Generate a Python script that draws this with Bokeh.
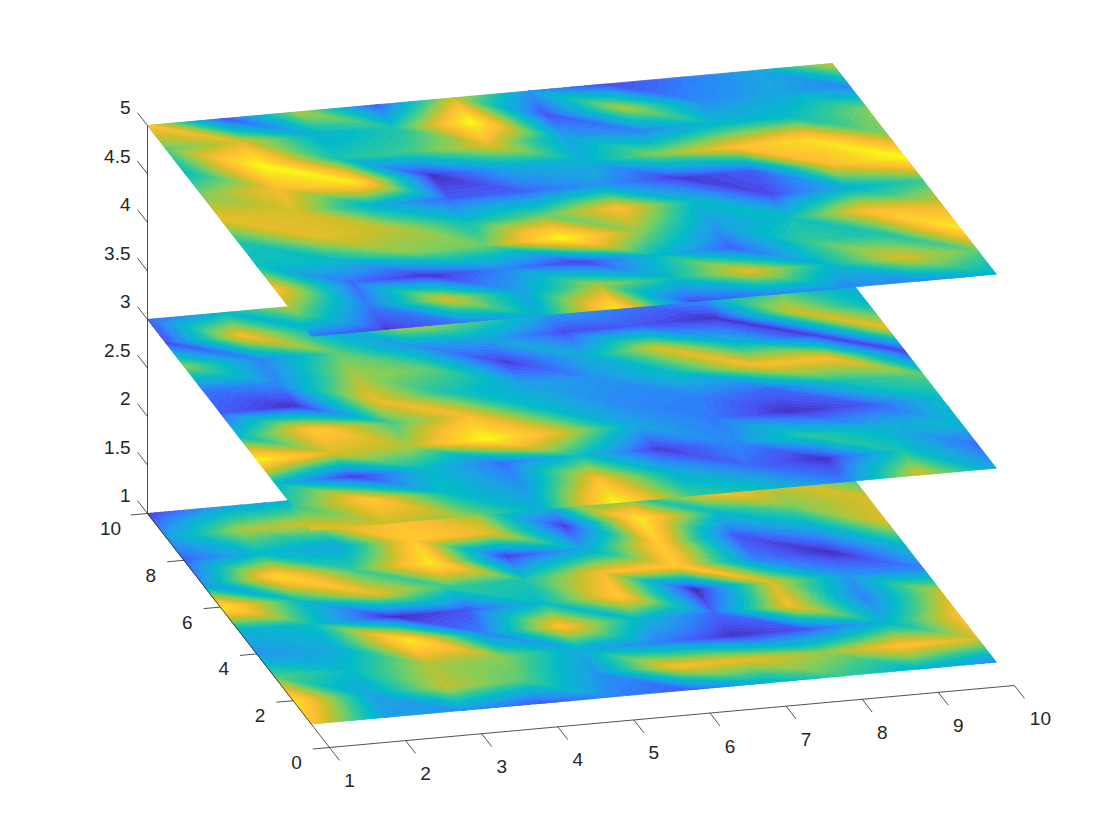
from bokeh.plotting import figure
from bokeh.embed import file_html
from bokeh.resources import INLINE
from bokeh.core.properties import value

# Slice values, rows from y=10 (back) to y=1 (front), columns x=1..10
x_values = [1, 2, 3, 4, 5, 6, 7, 8, 9, 10]
y_values = [10, 9, 8, 7, 6, 5, 4, 3, 2, 1]
plane_z = [1, 3, 5]

slice_z5 = [
    [.80, .10, .65, .12, .70, .25, .08, .18, .30, .70],
    [.55, .72, .35, .45, 1.0, .10, .65, .22, .30, .22],
    [.40, 1.0, .45, .52, .74, .30, .20, .38, .42, .60],
    [.60, .78, .95, .03, .30, .35, .60, .80, .92, .60],
    [.75, .72, .35, .12, .13, .25, .05, .12, .78, 1.0],
    [.45, .75, .68, .42, .55, .80, .38, .08, .35, .50],
    [.42, .40, .60, .57, 1.0, .62, .27, .42, .80, .72],
    [.80, .15, .03, .20, .05, .40, .12, .50, .45, .95],
    [.60, .18, .72, .30, .65, .42, .75, .40, .72, .55],
    [.18, .05, .18, .35, .95, .08, .20, .22, .22, .35],
]
slice_z3 = [
    [.12, .38, .70, .50, .40, .40, .30, .30, .30, .30],
    [.08, .78, .35, .75, .60, .30, .20, .30, .50, .30],
    [.60, .20, .55, .25, .30, .08, .10, .03, .70, .40],
    [.18, .22, .65, .55, .05, .33, .72, .35, .05, .75],
    [.12, .03, .75, .45, .30, .25, .42, .78, .78, .05],
    [.40, .85, .52, .78, .40, .22, .20, .15, .45, .55],
    [.98, .72, .65, 1.0, .72, .30, .18, .03, .10, .40],
    [.38, .04, .38, .15, .42, .05, .22, .48, .35, .38],
    [.50, .85, .42, .25, .80, .35, .15, .03, .45, .15],
    [.75, .70, .62, .35, 1.0, .50, .40, .20, .72, .30],
]
slice_z1 = [
    [.05, .30, .35, .50, .50, .50, .50, .50, .50, .50],
    [.28, .65, .70, .80, .60, .40, .50, .85, .70, .45],
    [.12, .38, .30, .85, .75, .05, .95, .40, .60, .72],
    [.25, .90, .50, .95, .05, .30, .85, .10, .30, .72],
    [.95, .42, .75, .50, .45, .78, .85, .20, .02, .38],
    [.35, .42, .02, .10, .40, .85, .00, .72, .25, .20],
    [.25, .33, .95, .20, .82, .38, .15, .78, .20, .70],
    [.55, .40, .66, .60, .32, .20, .03, .10, .35, .80],
    [.92, .30, .68, .55, .25, .78, .74, .62, .82, .72],
    [.82, .28, .25, .10, .20, .12, .35, .50, .36, .22],
]

x_ticks = [1, 2, 3, 4, 5, 6, 7, 8, 9, 10]
y_ticks = [0, 2, 4, 6, 8, 10]
z_ticks = [1, 1.5, 2, 2.5, 3, 3.5, 4, 4.5, 5]
z_labels = ["1", "1.5", "2", "2.5", "3", "3.5", "4", "4.5", "5"]

PARULA = [(62, 38, 168), (72, 82, 244), (45, 130, 250), (25, 165, 225), (2, 187, 200),
          (50, 200, 150), (130, 205, 90), (205, 190, 40), (255, 190, 50), (250, 215, 35),
          (249, 251, 21)]
LEVELS = 64


def colour(v):
    v = max(0.0, min(1.0, v)) * (len(PARULA) - 1)
    k = min(int(v), len(PARULA) - 2)
    t = v - k
    a, b = PARULA[k], PARULA[k + 1]
    return "#%02x%02x%02x" % tuple(round(a[c] + (b[c] - a[c]) * t) for c in range(3))


def project(x, y, z):
    return (147 + (x - 1) * 76.1 + (10 - y) * 18.2,
            125 - (x - 1) * 6.89 + (10 - y) * 23.4 + (5 - z) * 97)


def clip(poly, level, keep_above):
    """Clip a polygon of (x, y, value) vertices against a value level."""
    out = []
    for i, a in enumerate(poly):
        b = poly[(i + 1) % len(poly)]
        ina = a[2] >= level if keep_above else a[2] <= level
        inb = b[2] >= level if keep_above else b[2] <= level
        if ina:
            out.append(a)
        if ina != inb:
            t = (level - a[2]) / (b[2] - a[2])
            out.append(tuple(a[m] + (b[m] - a[m]) * t for m in range(3)))
    return out


p = figure(width=1104, height=824, x_range=(0, 1104), y_range=(824, 0),
           output_backend="svg", toolbar_location=None, min_border=0)
p.axis.visible = False
p.grid.visible = False
p.outline_line_color = None

for z, grid in zip(plane_z, [slice_z1, slice_z3, slice_z5]):
    bands = [[] for _ in range(LEVELS)]
    for r in range(len(y_values) - 1):
        for q in range(len(x_values) - 1):
            A = (x_values[q], y_values[r], grid[r][q])
            B = (x_values[q + 1], y_values[r], grid[r][q + 1])
            C = (x_values[q], y_values[r + 1], grid[r + 1][q])
            D = (x_values[q + 1], y_values[r + 1], grid[r + 1][q + 1])
            for tri in ([A, B, D], [A, D, C]):
                for k in range(LEVELS):
                    lo, hi = k / LEVELS, (k + 1) / LEVELS
                    poly = clip(list(tri), lo, True)
                    if poly:
                        poly = clip(poly, hi, False)
                    if len(poly) >= 3:
                        bands[k].append([project(u[0], u[1], z) for u in poly])
    xs, ys, cs = [], [], []
    for k in range(LEVELS):
        c = colour((k + 0.5) / LEVELS)
        for poly in bands[k]:
            xs.append([u[0] for u in poly])
            ys.append([u[1] for u in poly])
            cs.append(c)
    p.patches(xs, ys, fill_color=cs, line_color=cs, line_width=0.8)

AX = "#262626"
W = 0.8


def seg(a, b):
    p.line([a[0], b[0]], [a[1], b[1]], line_color=AX, line_width=W)


seg(project(1, 10, 1), project(1, 10, 5))
seg(project(1, 10, 1), project(1, 0, 1))
seg(project(1, 0, 1), project(10, 0, 1))
for v in x_ticks:
    seg(project(v, 0, 1), project(v, -0.55, 1))
for v in y_ticks:
    seg(project(1, v, 1), project(0.78, v, 1))
for v in z_ticks:
    seg(project(1, 10, v), project(1, 10.55, v))

FONT = value("Liberation Sans")
SIZE = value("19px")


def label(pt, txt, dx, dy, align="center"):
    p.text([pt[0]], [pt[1]], text=[txt], x_offset=dx, y_offset=dy, text_font=FONT,
           text_font_size=SIZE, text_color=AX, text_align=align, text_baseline="middle")


for v in x_ticks:
    label(project(v, 0, 1), str(v), 26 if v == 10 else 20, 33)
for v in y_ticks:
    label(project(1, v, 1), str(v), -37 if v == 10 else -33, 15)
for v, t in zip(z_ticks, z_labels):
    label(project(1, 10, v), t, -17, -18, "right")

open("out.html", "w").write(file_html(p, INLINE))
